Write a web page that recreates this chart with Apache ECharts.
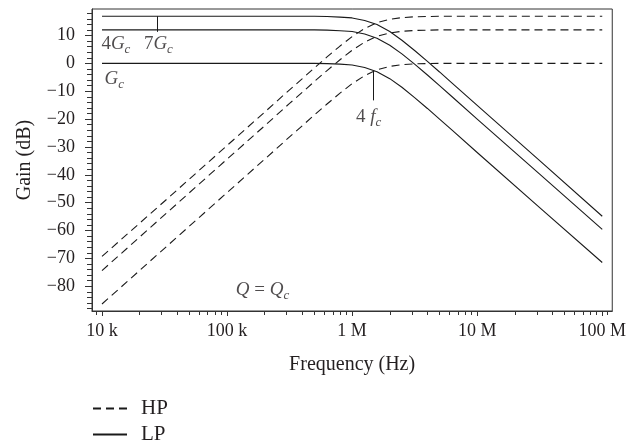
<!DOCTYPE html>
<html><head><meta charset="utf-8">
<script src="https://cdn.jsdelivr.net/npm/echarts@6/dist/echarts.min.js"></script>
<style>html,body{margin:0;padding:0;background:#fff}#c{width:629px;height:443px}</style>
</head><body><div id="c"></div>
<script>
// Frequency sample points (Hz)
const freqHz = [1e4, 3.16e4, 1e5, 2e5, 3.16e5, 4e5, 5e5, 6.3e5, 8e5, 1e6, 1.26e6, 1.58e6, 2e6, 2.5e6,
  3.16e6, 4e6, 5e6, 6.3e6, 1e7, 3.16e7, 1e8];
// High-pass gains (dB) for G = Gc, 4Gc, 7Gc
const hpGc  = [-86.4, -66.4, -46.4, -34.4, -26.4, -22.4, -18.5, -14.6, -10.7, -7.3, -4.4, -2.3, -1.1, -0.5, -0.2, -0.1, 0, 0, 0, 0, 0];
const hp4Gc = [-74.4, -54.4, -34.4, -22.4, -14.4, -10.4, -6.5, -2.6, 1.3, 4.7, 7.6, 9.7, 10.9, 11.5, 11.8, 11.9, 12, 12, 12, 12, 12];
const hp7Gc = [-69.3, -49.5, -29.5, -17.5, -9.5, -5.5, -1.6, 2.3, 6.2, 9.6, 12.5, 14.6, 15.8, 16.4, 16.7, 16.8, 16.9, 16.9, 16.9, 16.9, 16.9];
// Low-pass gains (dB)
const lpGc  = [0, 0, 0, 0, 0, 0, 0, -0.1, -0.3, -0.6, -1.5, -3, -5.5, -8.6, -12.3, -16.2, -20, -24, -32, -51.8, -71.5];
const lp4Gc = [12, 12, 12, 12, 12, 12, 12, 11.9, 11.7, 11.4, 10.5, 9, 6.5, 3.4, -0.3, -4.2, -8, -12, -20, -39.8, -59.6];
const lp7Gc = [16.9, 16.9, 16.9, 16.9, 16.9, 16.9, 16.9, 16.8, 16.6, 16.3, 15.4, 13.9, 11.4, 8.3, 4.6, 0.7, -3.1, -7.1, -15.1, -34.9, -54.9];
// Axis ticks
const xMajorFreqs = [1e4, 1e5, 1e6, 1e7, 1e8];
const xMajorLabels = ['10 k', '100 k', '1 M', '10 M', '100 M'];
const xMinorFreqs = [9e3, 2e4, 3e4, 4e4, 5e4, 6e4, 7e4, 8e4, 9e4, 2e5, 3e5, 4e5, 5e5, 6e5, 7e5, 8e5, 9e5,
  2e6, 3e6, 4e6, 5e6, 6e6, 7e6, 8e6, 9e6, 2e7, 3e7, 4e7, 5e7, 6e7, 7e7, 8e7, 9e7, 1.1e8];
const yMajorTicks = [-80, -70, -60, -50, -40, -30, -20, -10, 0, 10];
const yMinorTicks = [-88, -86, -84, -82, -78, -76, -74, -72, -68, -66, -64, -62, -58, -56, -54, -52, -48, -46, -44, -42,
  -38, -36, -34, -32, -28, -26, -24, -22, -18, -16, -14, -12, -8, -6, -4, -2, 2, 4, 6, 8, 12, 14, 16, 18];

const F = "'Liberation Serif','DejaVu Serif',serif";
const INK = '#231f20';
const L = Math.log10;
const xMin = 3.92, xMax = 8.08, yMin = -88.9, yMax = 19.5;

function lineSeries(name, vals, dashed) {
  return {
    type: 'line', name: name, xAxisIndex: 0, yAxisIndex: 0,
    data: freqHz.map((f, i) => [L(f), vals[i]]),
    symbol: 'none', smooth: false, silent: true,
    lineStyle: { color: '#1a1a1a', width: 1.1, type: dashed ? [8, 5] : 'solid' },
    itemStyle: { color: '#1a1a1a' }
  };
}
const rich = {
  n: { fontFamily: F, fontSize: 19, color: INK, lineHeight: 24 },
  i: { fontFamily: F, fontSize: 19, fontStyle: 'italic', color: INK, lineHeight: 24 },
  s: { fontFamily: F, fontSize: 13, fontStyle: 'italic', color: INK, lineHeight: 11, verticalAlign: 'bottom' }
};
function ann(x, y, text) {
  return { value: [x, y], label: { show: true, position: 'right', distance: 0, formatter: text, rich: rich } };
}
function legendFor(name, top) {
  return {
    orient: 'horizontal', left: 87, top: top, itemWidth: 34, itemHeight: 14,
    data: [name], selectedMode: false, itemStyle: { opacity: 0 },
    textStyle: { fontFamily: F, fontSize: 21, color: INK, padding: [0, 0, 0, 9] }
  };
}

const chart = echarts.init(document.getElementById('c'), null, { renderer: 'canvas' });
chart.setOption({
  animation: false,
  backgroundColor: '#fff',
  grid: { left: 92, right: 16, top: 9, bottom: 132, show: true, borderColor: '#333', borderWidth: 1, containLabel: false },
  legend: [legendFor('HP', 393), legendFor('LP', 419)],
  xAxis: [{
    type: 'value', min: xMin, max: xMax, position: 'bottom',
    name: 'Frequency (Hz)', nameLocation: 'middle', nameGap: 44,
    nameTextStyle: { fontFamily: F, fontSize: 20, color: INK },
    axisLine: { onZero: false, lineStyle: { color: '#333', width: 1 } },
    axisTick: { show: true, length: 5, customValues: xMajorFreqs.map(L), lineStyle: { color: '#333' } },
    axisLabel: { customValues: xMajorFreqs.map(L), fontFamily: F, fontSize: 18, color: INK, margin: 11,
      formatter: v => { const k = xMajorFreqs.findIndex(f => Math.abs(L(f) - v) < 1e-6); return k >= 0 ? xMajorLabels[k] : ''; } },
    splitLine: { show: false }
  }, {
    type: 'value', min: xMin, max: xMax, position: 'bottom',
    axisLine: { show: false, onZero: false },
    axisTick: { show: true, length: 4, customValues: xMinorFreqs.map(L), lineStyle: { color: '#333' } },
    axisLabel: { show: false }, splitLine: { show: false }
  }],
  yAxis: [{
    type: 'value', min: yMin, max: yMax, position: 'left',
    name: 'Gain (dB)', nameLocation: 'middle', nameGap: 57, nameRotate: 90,
    nameTextStyle: { fontFamily: F, fontSize: 20, color: INK },
    axisLine: { show: true, onZero: false, lineStyle: { color: '#333', width: 1 } },
    axisTick: { show: true, length: 7, customValues: yMajorTicks, lineStyle: { color: '#333' } },
    axisLabel: { customValues: yMajorTicks, fontFamily: F, fontSize: 18, color: INK, margin: 17,
      formatter: v => String(v).replace('-', '\u2212') },
    splitLine: { show: false }
  }, {
    type: 'value', min: yMin, max: yMax, position: 'left',
    axisLine: { show: false, onZero: false },
    axisTick: { show: true, length: 5, customValues: yMinorTicks, lineStyle: { color: '#333' } },
    axisLabel: { show: false }, splitLine: { show: false }
  }],
  series: [
    lineSeries('HP', hpGc, true), lineSeries('HP', hp4Gc, true), lineSeries('HP', hp7Gc, true),
    lineSeries('LP', lpGc, false), lineSeries('LP', lp4Gc, false), lineSeries('LP', lp7Gc, false),
    {
      type: 'scatter', name: 'annotations', xAxisIndex: 0, yAxisIndex: 0, symbolSize: 0, silent: true,
      data: [
        ann(3.995, 7.0, '{n|4}{i|G}{s|c}'),
        ann(4.335, 7.0, '{n|7}{i|G}{s|c}'),
        ann(4.02, -5.6, '{i|G}{s|c}'),
        ann(6.03, -19.4, '{n|4 }{i|f}{s|c}'),
        ann(5.07, -81.5, '{i|Q}{n| = }{i|Q}{s|c}')
      ],
      markLine: {
        silent: true, symbol: 'none', label: { show: false },
        lineStyle: { color: '#1a1a1a', width: 1, type: 'solid' },
        data: [
          [{ coord: [4.44, 16.9] }, { coord: [4.44, 11.3] }],
          [{ coord: [6.172, -2.7] }, { coord: [6.172, -13.3] }]
        ]
      }
    }
  ]
});
</script>
</body></html>
